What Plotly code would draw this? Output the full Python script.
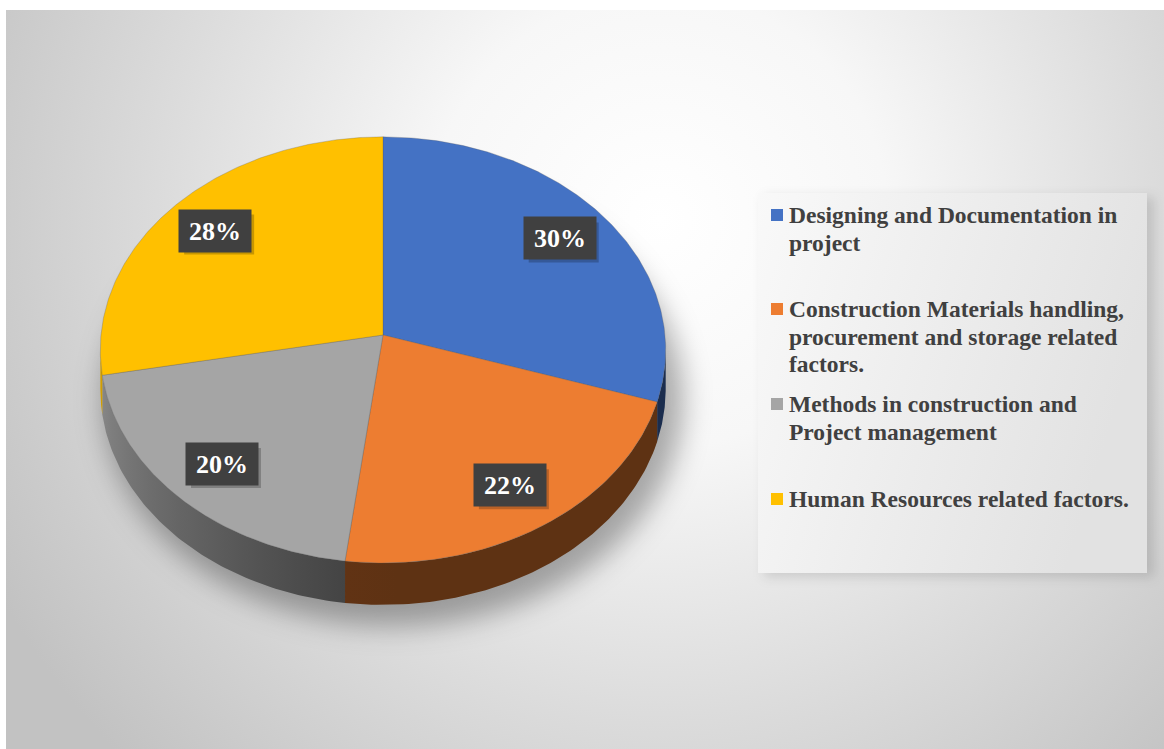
import base64
import math

import numpy as np
import plotly.graph_objects as go

# ---- data -------------------------------------------------------------
legend_labels = [
    ["Designing and Documentation in", "project"],
    ["Construction Materials handling,", "procurement and storage related", "factors."],
    ["Methods in construction and", "Project management"],
    ["Human Resources related factors."],
]
shares = [30, 22, 20, 28]
slice_colors = ["#4472C4", "#ED7D31", "#A5A5A5", "#FFC000"]

# ---- canvas / geometry (pixel units, y grows downward) -----------------
W, H = 1164, 749
CX, CY = 383, 335          # apex of the pie on the top face
RX, RY = 282, 212          # projected radii of the disc
PERSP = 0.07               # perspective strength (far half shrinks)
DEPTH = 39                 # thickness of the disc
LABEL_R = 0.8              # relative radius for the value boxes
BOX_W, BOX_H = 70, 40      # value box size

SERIF = "Liberation Serif, Times New Roman, serif"

# near half of the rim whose outward side faces the viewer
SIDE_LO = math.degrees(math.acos(-PERSP))
SIDE_HI = 360.0 - SIDE_LO


def project(theta_deg, r=1.0, drop=0.0):
    """Screen point of a disc point; theta clockwise from 12 o'clock (far side)."""
    t = math.radians(theta_deg)
    depth_z = r * math.cos(t)
    w = 1.0 + PERSP * depth_z
    return CX + RX * r * math.sin(t) / w, CY - RY * depth_z / w + drop / w


def shade(theta_deg):
    k = min(max((theta_deg - 185.0) / 80.0, 0.0), 1.0)
    return 0.40 + 0.45 * k


def scaled(hex_color, f):
    r, g, b = (int(hex_color[i:i + 2], 16) for i in (1, 3, 5))
    return f"rgb({int(r * f)},{int(g * f)},{int(b * f)})"


# ---- background: gradient panel, pie shadow, legend panel --------------
svg = f"""<svg xmlns='http://www.w3.org/2000/svg' width='{W}' height='{H}' viewBox='0 0 {W} {H}'>
<defs>
 <radialGradient id='bg' gradientUnits='userSpaceOnUse' cx='660' cy='220' r='760'>
  <stop offset='0' stop-color='#ffffff'/>
  <stop offset='0.3' stop-color='#f7f7f7'/>
  <stop offset='0.65' stop-color='#dcdcdc'/>
  <stop offset='1' stop-color='#c2c2c2'/>
 </radialGradient>
 <linearGradient id='lg' x1='0' y1='0' x2='1' y2='0.3'>
  <stop offset='0' stop-color='#f9f9f9'/>
  <stop offset='1' stop-color='#e2e2e2'/>
 </linearGradient>
 <filter id='blur' x='-30%' y='-30%' width='160%' height='160%'><feGaussianBlur stdDeviation='14'/></filter>
 <filter id='blur2' x='-30%' y='-30%' width='160%' height='160%'><feGaussianBlur stdDeviation='6'/></filter>
</defs>
<rect x='0' y='0' width='{W}' height='{H}' fill='#ffffff'/>
<rect x='6' y='10' width='{W - 6}' height='{H - 10}' fill='url(#bg)'/>
<ellipse cx='{CX + 10}' cy='{CY + DEPTH + 26}' rx='{RX + 8}' ry='{RY + 14}' fill='#000' fill-opacity='0.32' filter='url(#blur)'/>
<rect x='764' y='197' width='390' height='380' fill='#000' fill-opacity='0.13' filter='url(#blur2)'/>
<rect x='758' y='193' width='389' height='380' fill='url(#lg)'/>
</svg>"""
bg_src = "data:image/svg+xml;base64," + base64.b64encode(svg.encode()).decode()

fig = go.Figure()

# angular extent of every slice
bounds = []
acc = 0.0
total = float(sum(shares))
for v in shares:
    a = acc / total * 360.0
    acc += v
    bounds.append((a, acc / total * 360.0))

# ---- sides (only the near part of the rim is visible) ------------------
for (a, b), col in zip(bounds, slice_colors):
    lo, hi = max(a, SIDE_LO), min(b, SIDE_HI)
    if hi <= lo:
        continue
    angs = np.linspace(lo, hi, 80)
    top = [project(t) for t in angs]
    bot = [project(t, drop=DEPTH) for t in angs[::-1]]
    xs = [p[0] for p in top + bot] + [top[0][0]]
    ys = [p[1] for p in top + bot] + [top[0][1]]
    xmin, xmax = min(xs), max(xs)
    stops = []
    for t in np.linspace(lo, hi, 9):
        x = project(t)[0]
        pos = 0.0 if xmax == xmin else (x - xmin) / (xmax - xmin)
        stops.append((round(min(max(pos, 0.0), 1.0), 4), scaled(col, shade(t))))
    stops.sort(key=lambda s: s[0])
    stops[0] = (0.0, stops[0][1])
    stops[-1] = (1.0, stops[-1][1])
    fig.add_trace(go.Scatter(
        x=xs, y=ys, mode="lines", fill="toself",
        line=dict(width=0, color=scaled(col, 0.4)),
        fillgradient=dict(type="horizontal", colorscale=[list(s) for s in stops]),
        hoverinfo="skip", showlegend=False,
    ))

# ---- top face ------------------------------------------------------------
for (a, b), col, name in zip(bounds, slice_colors, legend_labels):
    angs = np.linspace(a, b, 160)
    pts = [project(t) for t in angs]
    xs = [CX] + [p[0] for p in pts] + [CX]
    ys = [CY] + [p[1] for p in pts] + [CY]
    fig.add_trace(go.Scatter(
        x=xs, y=ys, mode="lines", fill="toself", fillcolor=col,
        line=dict(color="rgba(90,90,90,0.35)", width=0.8),
        name=" ".join(name), hoverinfo="skip", showlegend=False,
    ))

# ---- value boxes (drop shadow + dark box) ------------------------------------
annotations = []
shapes = []
for (a, b), v in zip(bounds, shares):
    lx, ly = project((a + b) / 2.0, r=LABEL_R)
    shapes.append(dict(type="rect", xref="x", yref="y", layer="above",
                       x0=lx - BOX_W / 2 + 4, x1=lx + BOX_W / 2 + 4,
                       y0=ly - BOX_H / 2 + 4, y1=ly + BOX_H / 2 + 4,
                       fillcolor="rgba(0,0,0,0.22)", line=dict(width=0)))
    annotations.append(dict(x=lx, y=ly, xref="x", yref="y", showarrow=False,
                            width=BOX_W, height=BOX_H, text=f"<b>{v}%</b>",
                            bgcolor="#404040",
                            font=dict(family=SERIF, size=26, color="#ffffff")))

# ---- legend ------------------------------------------------------------------
LEG_X_TEXT, LEG_X_BOX = 787, 771
LINE_STEP = 27.7
legend_rows = [215, 309, 404, 499]
for lines, col, yc in zip(legend_labels, slice_colors, legend_rows):
    for i, line in enumerate(lines):
        annotations.append(dict(
            x=LEG_X_TEXT, y=yc + i * LINE_STEP, xref="x", yref="y",
            xanchor="left", yanchor="middle", align="left", showarrow=False,
            text=f"<b>{line}</b>",
            font=dict(family=SERIF, size=23.5, color="#404040"),
        ))
    shapes.append(dict(type="rect", xref="x", yref="y",
                       x0=LEG_X_BOX, x1=LEG_X_BOX + 12, y0=yc - 6, y1=yc + 6,
                       fillcolor=col, line=dict(width=0), layer="above"))

fig.update_layout(
    width=W, height=H,
    margin=dict(l=0, r=0, t=0, b=0),
    paper_bgcolor="#ffffff", plot_bgcolor="rgba(0,0,0,0)",
    xaxis=dict(range=[0, W], visible=False, fixedrange=True),
    yaxis=dict(range=[H, 0], visible=False, fixedrange=True),
    showlegend=False,
    annotations=annotations,
    shapes=shapes,
    images=[dict(source=bg_src, xref="paper", yref="paper", x=0, y=1,
                 sizex=1, sizey=1, xanchor="left", yanchor="top",
                 sizing="stretch", layer="below")],
)

fig.write_html("out.html")
